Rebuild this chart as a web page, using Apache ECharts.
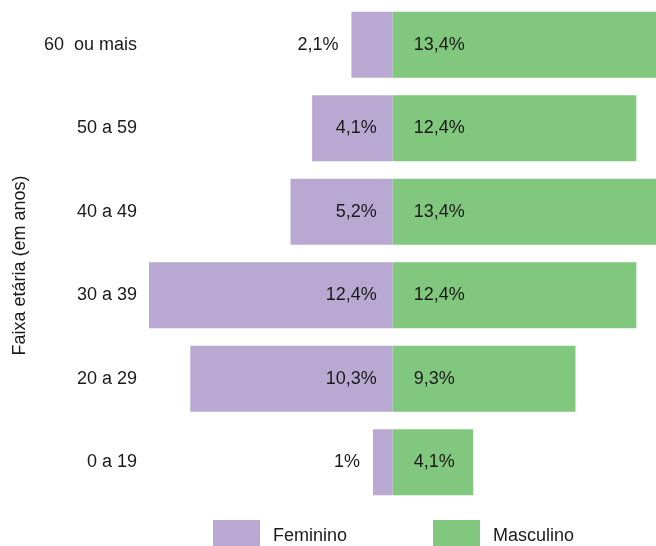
<!DOCTYPE html>
<html>
<head>
<meta charset="utf-8">
<script src="https://cdn.jsdelivr.net/npm/echarts@6/dist/echarts.min.js"></script>
<style>
  html, body { margin: 0; padding: 0; background: #fff; }
  #chart { width: 656px; height: 546px; }
</style>
</head>
<body>
<div id="chart"></div>
<script>
// age groups, top to bottom
const categories = ["60  ou mais", "50 a 59", "40 a 49", "30 a 39", "20 a 29", "0 a 19"];
const feminino = [2.1, 4.1, 5.2, 12.4, 10.3, 1];
const masculino = [13.4, 12.4, 13.4, 12.4, 9.3, 4.1];

const FONT = "'Liberation Sans', Arial, sans-serif";
const TEXT = "#1a1a1a";
const SIZE = 18;
const fmt = v => String(Math.abs(v)).replace(".", ",") + "%";

const chart = echarts.init(document.getElementById("chart"));

chart.setOption({
  animation: false,
  textStyle: { fontFamily: FONT, color: TEXT },
  grid: { left: 149, right: 0, top: 3, bottom: 42, containLabel: false, outerBoundsMode: "none" },
  legend: {
    left: 208,
    top: 515,
    itemWidth: 47,
    itemHeight: 33,
    itemGap: 86,
    icon: "rect",
    textStyle: { fontFamily: FONT, fontSize: SIZE, color: TEXT, padding: [0, 0, 0, 8] },
    data: ["Feminino", "Masculino"]
  },
  xAxis: {
    type: "value",
    min: -12.4,
    max: 13.4,
    show: false
  },
  yAxis: {
    type: "category",
    inverse: true,
    data: categories,
    axisLine: { show: false },
    axisTick: { show: false },
    axisLabel: { fontFamily: FONT, fontSize: SIZE, color: TEXT, margin: 12 },
    name: "Faixa etária (em anos)",
    nameLocation: "middle",
    nameRotate: 90,
    nameGap: 120,
    nameTextStyle: { fontFamily: FONT, fontSize: SIZE, color: TEXT, padding: [0, 24, 0, 0] }
  },
  series: [
    {
      name: "Feminino",
      type: "bar",
      stack: "total",
      barCategoryGap: "21%",
      itemStyle: { color: "#b9a9d2" },
      data: feminino.map(v => ({
        value: -v,
        label: v < 3
          ? { position: "left", distance: 13 }
          : { position: "insideRight", distance: 16 }
      })),
      label: {
        show: true,
        fontFamily: FONT,
        fontSize: SIZE,
        color: TEXT,
        formatter: p => fmt(p.value)
      }
    },
    {
      name: "Masculino",
      type: "bar",
      stack: "total",
      barCategoryGap: "21%",
      itemStyle: { color: "#82c77e" },
      data: masculino,
      label: {
        show: true,
        position: "insideLeft",
        distance: 21,
        fontFamily: FONT,
        fontSize: SIZE,
        color: TEXT,
        formatter: p => fmt(p.value)
      }
    }
  ]
});
</script>
</body>
</html>
